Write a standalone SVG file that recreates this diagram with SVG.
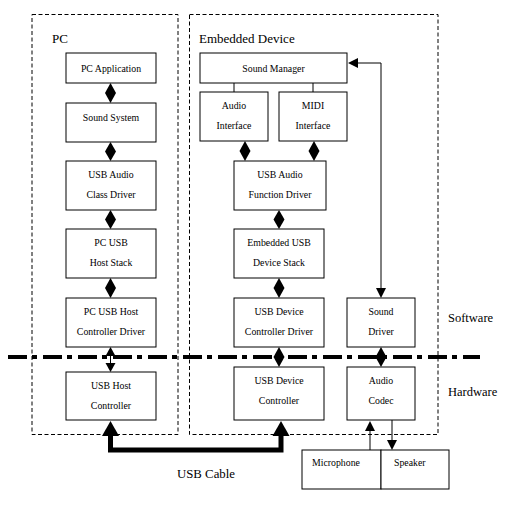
<svg xmlns="http://www.w3.org/2000/svg" width="506" height="505" viewBox="0 0 506 505">
<style>
  .box { fill: #fff; stroke: #000; stroke-width: 1; }
  .cont { fill: none; stroke: #000; stroke-width: 1; stroke-dasharray: 4 2.5; }
  text { font-family: 'Liberation Serif', 'Times New Roman', Tinos, 'DejaVu Serif', serif; fill: #000; }
  .t { font-size: 9.8px; text-anchor: middle; }
  .tl { font-size: 9.8px; }
  .big { font-size: 13px; }
  .ln { fill: none; stroke: #000; stroke-width: 1; }
  .hd { fill: #000; stroke: none; }
</style>
<rect width="506" height="505" fill="#fff"/>

<g id="pc-container">
  <rect class="cont" x="32" y="14.5" width="146" height="420"/>
  <text class="big" x="52" y="43" font-family="Liberation Serif, serif">PC</text>
</g>
<g id="embedded-container">
  <rect class="cont" x="189.5" y="14.5" width="248.5" height="420"/>
  <text class="big" x="199" y="43">Embedded Device</text>
</g>

<g id="layer-divider">
  <line x1="8" y1="357" x2="480" y2="357" stroke="#000" stroke-width="4" stroke-dasharray="19 5 5 6"/>
  <text class="big" x="448" y="322" style="font-size:12.5px">Software</text>
  <text class="big" x="448" y="396" style="font-size:12.5px">Hardware</text>
</g>

<g id="connectors">
  <polygon class="hd" points="110.5,83 116,93 110.5,103 105,93"/>
  <polygon class="hd" points="110.5,142 116,151.5 110.5,161 105,151.5"/>
  <polygon class="hd" points="110.5,210 116,219.5 110.5,229 105,219.5"/>
  <polygon class="hd" points="110.5,278 116,288 110.5,298 105,288"/>
  <line class="ln" x1="110.5" y1="355" x2="110.5" y2="364"/>
  <polygon class="hd" points="110.5,347 115.5,356 105.5,356"/>
  <polygon class="hd" points="110.5,372 115.5,363 105.5,363"/>
  <line class="ln" x1="234" y1="83" x2="234" y2="92"/>
  <line class="ln" x1="313" y1="83" x2="313" y2="92"/>
  <polygon class="hd" points="245,141 250.5,151 245,161 239.5,151"/>
  <polygon class="hd" points="314,141 319.5,151 314,161 308.5,151"/>
  <polygon class="hd" points="279,210 284.5,219.5 279,229 273.5,219.5"/>
  <polygon class="hd" points="279,278 284.5,288 279,298 273.5,288"/>
  <polygon class="hd" points="279,347 284.5,357 279,367 273.5,357"/>
  <polygon class="hd" points="381,347 386.5,357 381,367 375.5,357"/>
  <polyline class="ln" points="357,63 381,63 381,289"/>
  <polygon class="hd" points="348,63 358,58 358,68"/>
  <polygon class="hd" points="381,298 376,288 386,288"/>
  <line class="ln" x1="370" y1="450" x2="370" y2="430"/>
  <polygon class="hd" points="370,421 375,431 365,431"/>
  <line class="ln" x1="392" y1="420" x2="392" y2="441"/>
  <polygon class="hd" points="392,450 387,440 397,440"/>
  <polyline points="110.5,434 110.5,450 281,450 281,434" fill="none" stroke="#000" stroke-width="5" stroke-linejoin="miter"/>
  <polygon class="hd" points="110.5,421 119,436 102,436"/>
  <polygon class="hd" points="281,421 289.5,436 272.5,436"/>
  <text class="big" x="206" y="478" text-anchor="middle" style="font-size:12.8px">USB Cable</text>
</g>

<g id="pc-application">
  <rect class="box" x="66" y="53" width="90" height="30"/>
  <text class="t" x="111" y="71.5">PC Application</text>
</g>
<g id="sound-system">
  <rect class="box" x="66" y="103" width="90" height="39"/>
  <text class="t" x="111" y="121">Sound System</text>
</g>
<g id="usb-audio-class-driver">
  <rect class="box" x="66" y="161" width="90" height="49"/>
  <text class="t" x="111" y="178">USB Audio</text>
  <text class="t" x="111" y="198">Class Driver</text>
</g>
<g id="pc-usb-host-stack">
  <rect class="box" x="66" y="229" width="90" height="49"/>
  <text class="t" x="111" y="246">PC USB</text>
  <text class="t" x="111" y="266">Host Stack</text>
</g>
<g id="pc-usb-host-controller-driver">
  <rect class="box" x="66" y="298" width="90" height="49"/>
  <text class="t" x="111" y="315">PC USB Host</text>
  <text class="t" x="111" y="335">Controller Driver</text>
</g>
<g id="usb-host-controller">
  <rect class="box" x="66" y="372" width="90" height="48"/>
  <text class="t" x="111" y="389">USB Host</text>
  <text class="t" x="111" y="409">Controller</text>
</g>

<g id="sound-manager">
  <rect class="box" x="200" y="53" width="147" height="30"/>
  <text class="t" x="273.5" y="72">Sound Manager</text>
</g>
<g id="audio-interface">
  <rect class="box" x="200" y="92" width="68" height="49"/>
  <text class="t" x="234" y="109">Audio</text>
  <text class="t" x="234" y="129">Interface</text>
</g>
<g id="midi-interface">
  <rect class="box" x="279" y="92" width="68" height="49"/>
  <text class="t" x="313" y="109">MIDI</text>
  <text class="t" x="313" y="129">Interface</text>
</g>
<g id="usb-audio-function-driver">
  <rect class="box" x="234" y="161" width="92" height="49"/>
  <text class="t" x="280" y="178">USB Audio</text>
  <text class="t" x="280" y="198">Function Driver</text>
</g>
<g id="embedded-usb-device-stack">
  <rect class="box" x="234" y="229" width="90" height="49"/>
  <text class="t" x="279" y="246">Embedded USB</text>
  <text class="t" x="279" y="266">Device Stack</text>
</g>
<g id="usb-device-controller-driver">
  <rect class="box" x="234" y="298" width="90" height="49"/>
  <text class="t" x="279" y="315">USB Device</text>
  <text class="t" x="279" y="335">Controller Driver</text>
</g>
<g id="usb-device-controller">
  <rect class="box" x="234" y="367" width="90" height="53"/>
  <text class="t" x="279" y="384">USB Device</text>
  <text class="t" x="279" y="404">Controller</text>
</g>
<g id="sound-driver">
  <rect class="box" x="347" y="298" width="68" height="49"/>
  <text class="t" x="381" y="315">Sound</text>
  <text class="t" x="381" y="335">Driver</text>
</g>
<g id="audio-codec">
  <rect class="box" x="347" y="367" width="68" height="53"/>
  <text class="t" x="381" y="384">Audio</text>
  <text class="t" x="381" y="404">Codec</text>
</g>
<g id="microphone">
  <rect class="box" x="302" y="450" width="79" height="39"/>
  <text class="tl" x="312" y="466">Microphone</text>
</g>
<g id="speaker">
  <rect class="box" x="381" y="450" width="68" height="39"/>
  <text class="tl" x="394" y="466">Speaker</text>
</g>
</svg>
